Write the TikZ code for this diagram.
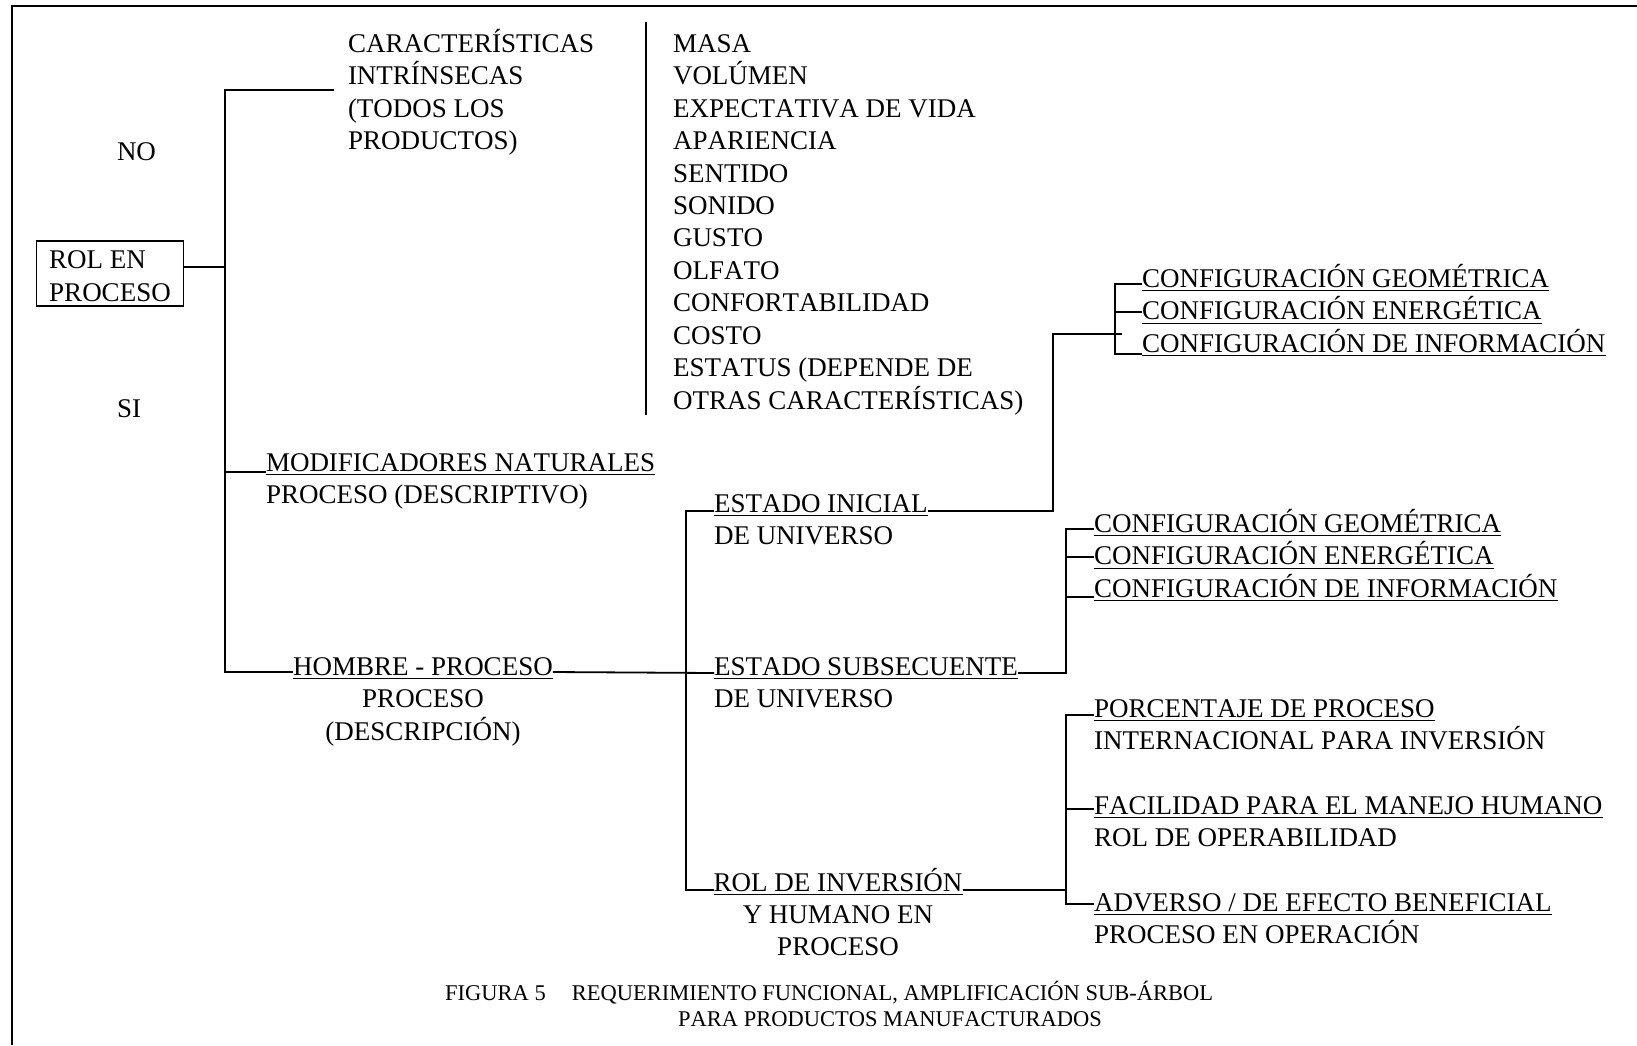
\documentclass[tikz,border=0pt]{standalone}
\usepackage{fontspec}
\setmainfont{Liberation Serif}[Kerning=Off]
% underlined text: a rule 3pt below the baseline, as wide as the text
\newsavebox\undlbox
\newcommand{\undl}[1]{\sbox\undlbox{#1}\rlap{\rule[-4.3pt]{\wd\undlbox}{1.3pt}}\usebox\undlbox}
% multi-line labels whose baseline is that of their first line
\newcommand{\llines}[1]{\begin{tabular}[t]{@{}l@{}}#1\end{tabular}}
\newcommand{\clines}[1]{\begin{tabular}[t]{@{}c@{}}#1\end{tabular}}
\begin{document}
\begin{tikzpicture}[x=1pt,y=-1pt,
  lbl/.style={inner sep=0pt, outer sep=0pt, anchor=base west,
    font=\fontsize{27}{32.4}\selectfont},
  lblc/.style={lbl, anchor=base},
  wire/.style={line width=1.8pt, line join=miter},
  frame/.style={line width=2.4pt},
]
\useasboundingbox (0,0) rectangle (1637,1045);
\fill[white] (0,0) rectangle (1637,1045);

% outer frame (only top and left edges fall inside the page)
\draw[frame] (12,1045) -- (12,6) -- (1637,6);

% root
\node[draw, line width=1.8pt, minimum width=147pt, minimum height=65pt,
  inner sep=0pt, align=left, text height=55.6pt, text depth=0pt,
  font=\fontsize{27}{32.4}\selectfont]
  (rol) at (110,273.5) {ROL EN\\PROCESO};
\node[lbl] (no) at (117,160) {NO};
\node[lbl] (si) at (117,417) {SI};

% first level
\node[lbl] (car) at (348,52) {\llines{CARACTERÍSTICAS\\INTRÍNSECAS\\(TODOS LOS\\PRODUCTOS)}};
\node[lbl] (list) at (673,52) {\llines{MASA\\VOLÚMEN\\EXPECTATIVA DE VIDA\\APARIENCIA\\SENTIDO\\SONIDO\\GUSTO\\OLFATO\\CONFORTABILIDAD\\COSTO\\ESTATUS (DEPENDE DE\\OTRAS CARACTERÍSTICAS)}};
\node[lbl] (mod) at (266,471) {\llines{\undl{MODIFICADORES NATURALES}\\PROCESO (DESCRIPTIVO)}};
\node[lblc] (hom) at (423,675) {\clines{\undl{HOMBRE - PROCESO}\\PROCESO\\(DESCRIPCIÓN)}};

% second level
\node[lbl] (ei) at (714,512) {\llines{\undl{ESTADO INICIAL}\\DE UNIVERSO}};
\node[lbl] (es) at (714,675) {\llines{\undl{ESTADO SUBSECUENTE}\\DE UNIVERSO}};
\node[lblc] (ri) at (838,891) {\clines{\undl{ROL DE INVERSIÓN}\\Y HUMANO EN\\PROCESO}};

% third level
\node[lbl] (g1a) at (1142,287) {\undl{CONFIGURACIÓN GEOMÉTRICA}};
\node[lbl] (g1b) at (1142,319.5) {\undl{CONFIGURACIÓN ENERGÉTICA}};
\node[lbl] (g1c) at (1142,352) {\undl{CONFIGURACIÓN DE INFORMACIÓN}};
\node[lbl] (g2a) at (1094,532) {\undl{CONFIGURACIÓN GEOMÉTRICA}};
\node[lbl] (g2b) at (1094,564.5) {\undl{CONFIGURACIÓN ENERGÉTICA}};
\node[lbl] (g2c) at (1094,597) {\undl{CONFIGURACIÓN DE INFORMACIÓN}};
\node[lbl] (p1) at (1094,717) {\llines{\undl{PORCENTAJE DE PROCESO}\\INTERNACIONAL PARA INVERSIÓN}};
\node[lbl] (p2) at (1094,814) {\llines{\undl{FACILIDAD PARA EL MANEJO HUMANO}\\ROL DE OPERABILIDAD}};
\node[lbl] (p3) at (1094,911) {\llines{\undl{ADVERSO / DE EFECTO BENEFICIAL}\\PROCESO EN OPERACIÓN}};

% caption
\node[inner sep=0pt, anchor=base west, font=\fontsize{22.5}{26}\selectfont] (cap) at (445,1000)
  {\llines{FIGURA 5\hspace{26pt}REQUERIMIENTO FUNCIONAL, AMPLIFICACIÓN SUB-ÁRBOL\\
   \hspace*{233pt}PARA PRODUCTOS MANUFACTURADOS}};

% separator between the heading and its list
\coordinate (sept) at (646,22);
\coordinate (sepb) at (646,415);
\draw[line width=1.5pt] (sept) -- (sepb);

% junction points
\coordinate (t1) at (225,267);
\coordinate (carend) at (334,90);
\coordinate (t2) at (686,0);
\coordinate (k1) at (1053,334);
\coordinate (k1e) at (1122,334);
\coordinate (b1) at (1115,0);
\coordinate (b2) at (1066,0);

% stub points on the labels
\coordinate (modw) at ([yshift=-1pt]mod.base west);
\coordinate (homw) at ([yshift=3pt]hom.base west);
\coordinate (home) at ([yshift=3pt]hom.base east);
\coordinate (esw) at ([yshift=2pt]es.base west);
\coordinate (ese) at ([yshift=2pt]es.base east);
\coordinate (eiw) at ([yshift=1pt]ei.base west);
\coordinate (eie) at ([yshift=1pt]ei.base east);
\coordinate (riw) at ([yshift=1pt]ri.base west);
\coordinate (rie) at ([yshift=1pt]ri.base east);
\coordinate (g1s) at ([yshift=3pt]g1a.base west);
\coordinate (g1m) at ([yshift=7.5pt]g1b.base west);
\coordinate (g1e) at ([yshift=-2pt]g1c.base west);
\coordinate (g2s) at ([yshift=3pt]g2a.base west);
\coordinate (g2m) at ([yshift=7.5pt]g2b.base west);
\coordinate (g2e) at (g2c.base west);
\coordinate (p1s) at ([yshift=2pt]p1.base west);
\coordinate (p2s) at ([yshift=5pt]p2.base west);
\coordinate (p3s) at ([yshift=7pt]p3.base west);

% root trunk
\draw[wire] (rol.east |- t1) -- (t1);
\draw[wire] (carend) -- (carend -| t1) -- (t1 |- homw) -- (homw);
\draw[wire] (t1 |- modw) -- (modw);

% HOMBRE - PROCESO branch
\draw[wire] (home) -- (esw);
\draw[wire] (eiw) -- (t2 |- eiw) -- (t2 |- riw) -- (riw);

% initial state configurations
\draw[wire] (eie) -| (k1) -- (k1e);
\draw[wire] (g1s) -- (b1 |- g1s) -- (b1 |- g1e) -- (g1e);
\draw[wire] (b1 |- g1m) -- (g1m);

% subsequent state configurations
\draw[wire] (ese) -- (b2 |- ese) -- (b2 |- g2s) -- (g2s);
\draw[wire] (b2 |- g2m) -- (g2m);
\draw[wire] (b2 |- g2e) -- (g2e);

% investment role branches
\draw[wire] (rie) -- (b2 |- rie);
\draw[wire] (p1s) -- (b2 |- p1s) -- (b2 |- p3s) -- (p3s);
\draw[wire] (b2 |- p2s) -- (p2s);
\end{tikzpicture}
\end{document}
